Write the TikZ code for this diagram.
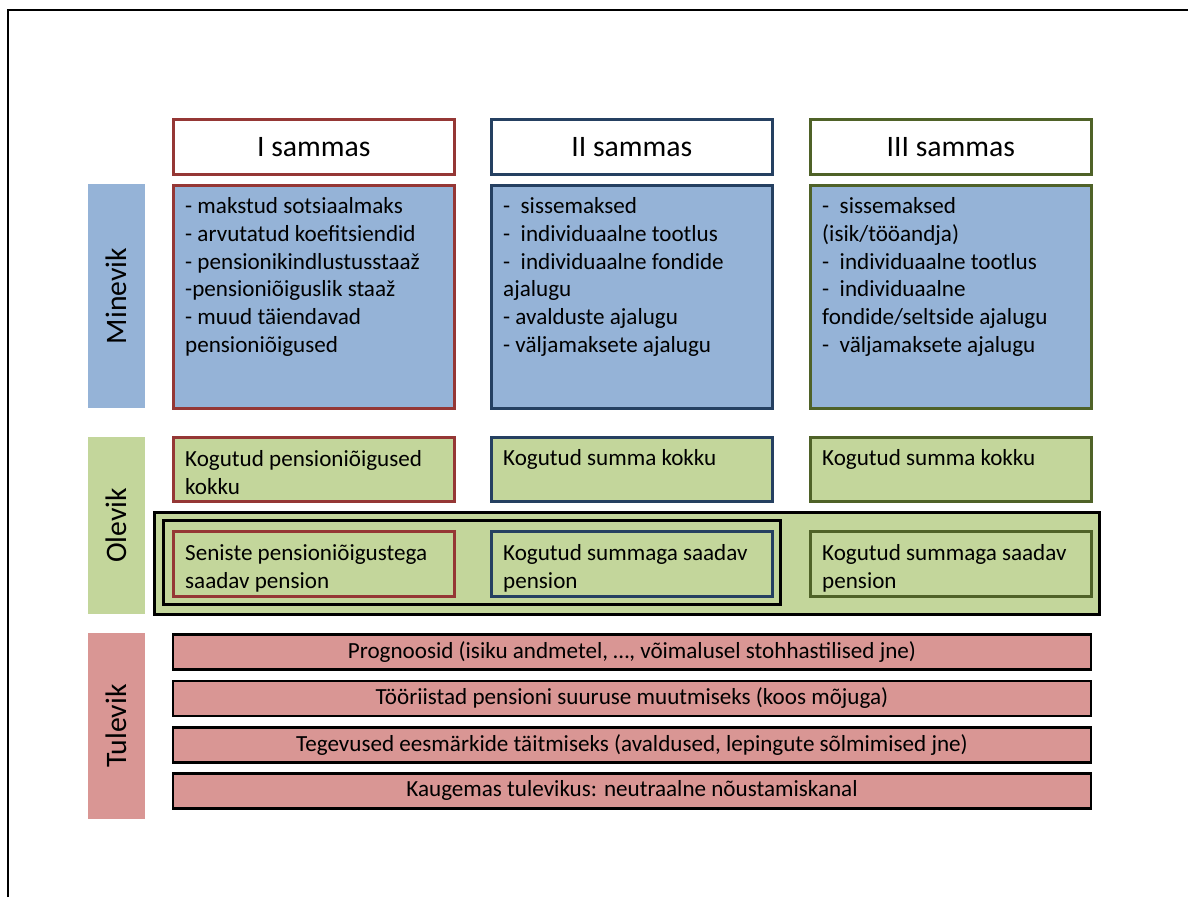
\documentclass[tikz,border=0pt]{standalone}
\usepackage{fontspec}
\setmainfont{Carlito}
\usepackage{xcolor}
\definecolor{pastblue}{RGB}{149, 179, 215}
\definecolor{nowgreen}{RGB}{195, 214, 155}
\definecolor{futred}{RGB}{217, 150, 148}
\definecolor{redline}{RGB}{149, 55, 53}
\definecolor{blueline}{RGB}{37, 64, 97}
\definecolor{greenline}{RGB}{79, 98, 40}
\usepackage{tikz}
\usetikzlibrary{positioning}

\newcommand{\bodytxt}{\fontsize{23.1}{27.7}\selectfont}
\newcommand{\headtxt}{\fontsize{29.7}{35.6}\selectfont}

\begin{document}
\begin{tikzpicture}[x=1pt, y=-1pt,
  box/.style={draw, line width=2.5pt, anchor=north west, inner sep=0pt},
  head/.style={box, fill=white, minimum width=281pt, minimum height=55pt, font=\headtxt},
  past/.style={box, fill=pastblue, minimum width=281pt, minimum height=223pt},
  now/.style={box, fill=nowgreen, minimum width=281pt},
  future/.style={box, fill=futred, anchor=north, minimum width=918pt, minimum height=35pt, font=\bodytxt},
  side/.style={fill=#1, inner sep=0pt, minimum width=57pt, font=\headtxt},
  txt/.style={anchor=north west, inner sep=0pt, align=left, font=\bodytxt, execute at begin node=\strut}]
  \useasboundingbox (0,0) rectangle (1188,897);
  % Rahmen
  \draw[line width=2pt] (8,897) -- (8,10) -- (1188,10);

  % Sambad
  \node[head, draw=redline] (h1) at (172,118) {I sammas};
  \node[head, draw=blueline] (h2) at (490,118) {II sammas};
  \node[head, draw=greenline] (h3) at (809,118) {III sammas};

  % Minevik
  \node[side=pastblue, minimum height=224pt] (minevik) at (116.5,296) {\rotatebox{90}{Minevik}};
  \node[past, draw=redline] (m1) at (172,184) {};
  \node[past, draw=blueline] (m2) at (490,184) {};
  \node[past, draw=greenline] (m3) at (809,184) {};
  \node[txt] (m1t) at ([shift={(13,13.6)}]m1.north west) {- makstud sotsiaalmaks\\- arvutatud koefitsiendid\\- pensionikindlustusstaaž\\-pensioniõiguslik staaž\\- muud täiendavad\\pensioniõigused};
  \node[txt] (m2t) at ([shift={(13,13.6)}]m2.north west) {-\ \ sissemaksed\\-\ \ individuaalne tootlus\\-\ \ individuaalne fondide\\ajalugu\\- avalduste ajalugu\\- väljamaksete ajalugu};
  \node[txt] (m3t) at ([shift={(13,13.6)}]m3.north west) {-\ \ sissemaksed\\(isik/tööandja)\\-\ \ individuaalne tootlus\\-\ \ individuaalne\\fondide/seltside ajalugu\\-\ \ väljamaksete ajalugu};

  % Olevik
  \node[side=nowgreen, minimum height=177pt] (olevik) at (116.5,525.5) {\rotatebox{90}{Olevik}};
  \node[now, draw=redline, minimum height=64pt] (o1) at (172,436) {};
  \node[now, draw=blueline, minimum height=64pt] (o2) at (490,436) {};
  \node[now, draw=greenline, minimum height=64pt] (o3) at (809,436) {};
  \node[txt] (o1t) at ([shift={(13,14.4)}]o1.north west) {Kogutud pensioniõigused\\kokku};
  \node[txt] (o2t) at ([shift={(13,9.6)}]o2.north west) {Kogutud summa kokku};
  \node[txt] (o3t) at ([shift={(13,9.6)}]o3.north west) {Kogutud summa kokku};

  \node[box, fill=nowgreen, minimum width=945pt, minimum height=102pt] (nowall) at (153,511) {};
  \node[box, fill=nowgreen, minimum width=617pt, minimum height=84pt] (nowin) at (162,519) {};
  \node[now, draw=redline, minimum height=65pt] (p1) at (172,530) {};
  \node[now, draw=blueline, minimum height=65pt] (p2) at (490,530) {};
  \node[now, draw=greenline, minimum height=65pt] (p3) at (809,530) {};
  \node[txt] (p1t) at ([shift={(13,14.4)}]p1.north west) {Seniste pensioniõigustega\\saadav pension};
  \node[txt] (p2t) at ([shift={(13,14.4)}]p2.north west) {Kogutud summaga saadav\\pension};
  \node[txt] (p3t) at ([shift={(13,14.4)}]p3.north west) {Kogutud summaga saadav\\pension};

  % Tulevik
  \node[side=futred, minimum height=186pt] (tulevik) at (116.5,726) {\rotatebox{90}{Tulevik}};
  \node[future] (t1) at (632,633) {Prognoosid (isiku andmetel, …, võimalusel stohhastilised jne)};
  \node[future, below=9pt of t1] (t2) {Tööriistad pensioni suuruse muutmiseks (koos mõjuga)};
  \node[future, below=9pt of t2] (t3) {Tegevused eesmärkide täitmiseks (avaldused, lepingute sõlmimised jne)};
  \node[future, below=8.5pt of t3] (t4) {Kaugemas tulevikus: neutraalne nõustamiskanal};
\end{tikzpicture}
\end{document}
